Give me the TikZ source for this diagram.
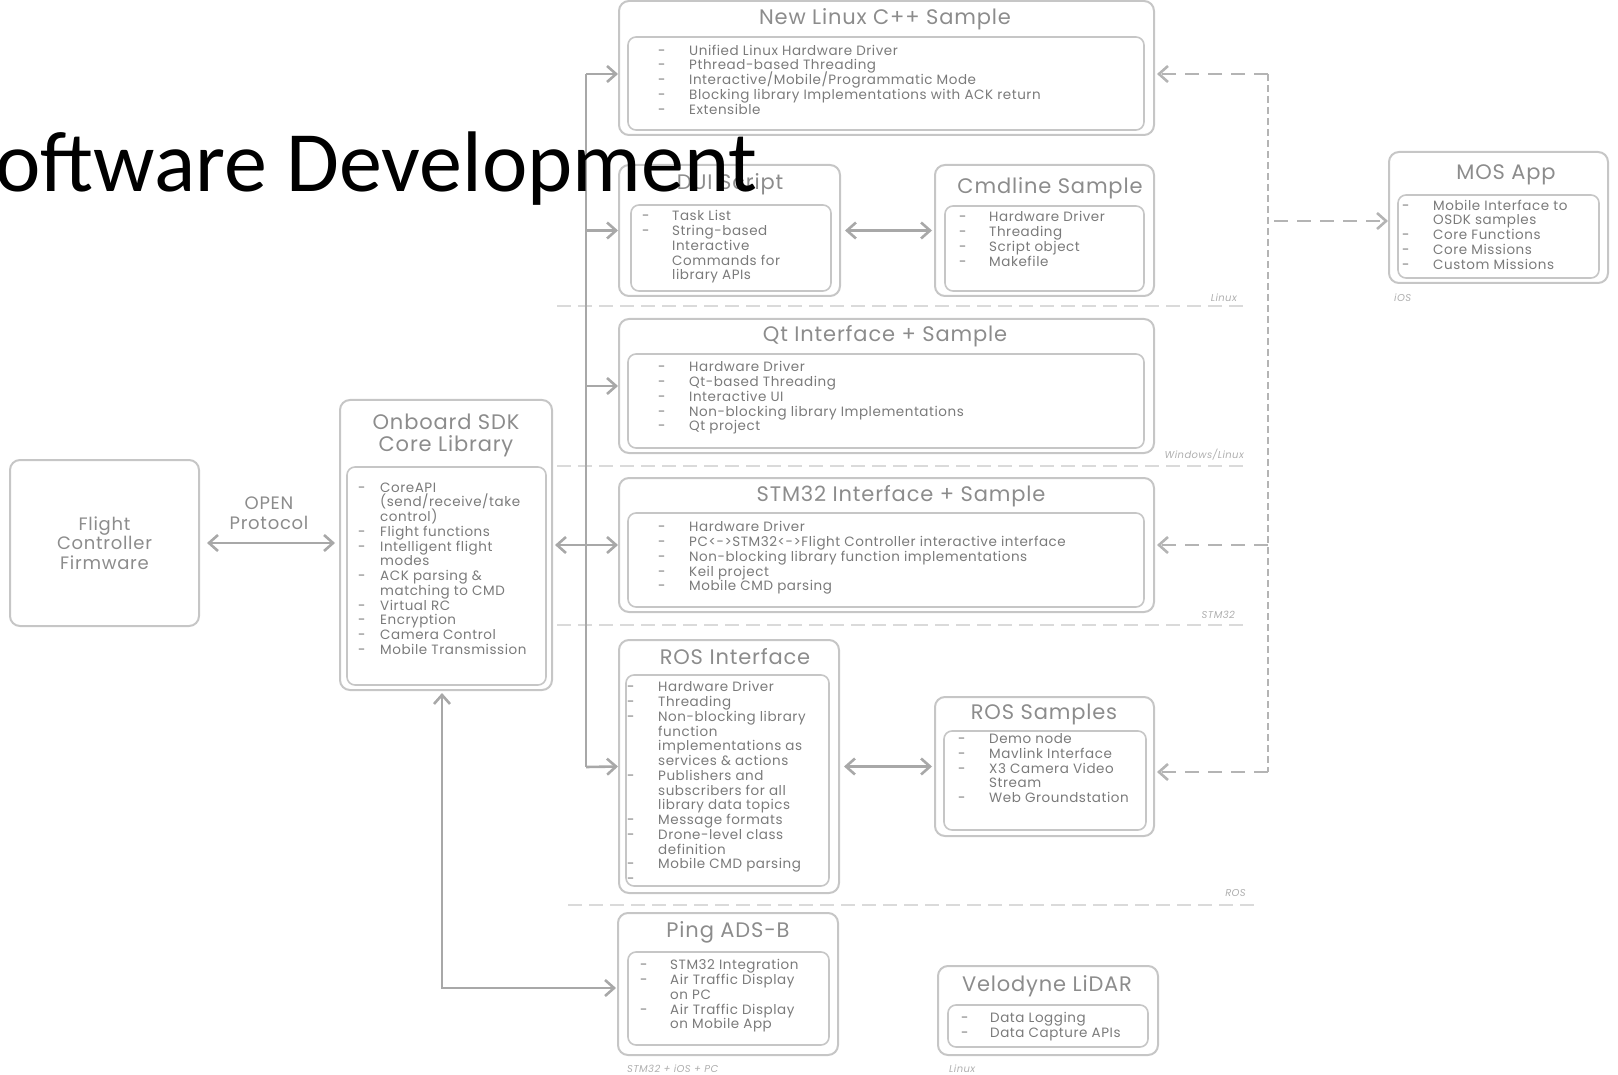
\documentclass[tikz,border=0pt]{standalone}
\usepackage{fontspec}
\setmainfont{Poppins}[LetterSpace=4]
\newfontfamily\slidefont{Carlito}
\usepackage{tikz}
\usetikzlibrary{arrows.meta}

\definecolor{boxgray}{HTML}{C6C6C6}
\definecolor{textgray}{HTML}{7A7A7A}
\definecolor{titlegray}{HTML}{8C8C8C}
\definecolor{wiregray}{HTML}{A8A8A8}
\definecolor{dashgray}{HTML}{B4B4B4}
\newcommand{\itm}[2][31pt]{\makebox[#1][l]{-}#2}
\newcommand{\wrapln}[2][31pt]{\hspace*{#1}#2}
\lineskiplimit=-20pt

\begin{document}
\begin{tikzpicture}[x=1pt, y=-1pt,
  panel/.style={draw=boxgray, line width=2pt, rounded corners=10pt, inner sep=0pt},
  listbox/.style={draw=boxgray, line width=1.6pt, rounded corners=8pt, inner sep=0pt},
  paneltitle/.style={text=titlegray, inner sep=0pt, font=\fontsize{21}{23}\selectfont},
  items/.style={text=textgray, align=left, anchor=north west, inner sep=0pt, font=\fontsize{13.5}{14.75}\selectfont},
  oslabel/.style={text=textgray!60, inner sep=0pt, font=\itshape\fontsize{10}{11}\selectfont},
  sepline/.style={draw=boxgray!65, line width=1.2pt, dash pattern=on 14pt off 7pt},
  wire/.style={draw=wiregray, line width=2.6pt},
  link/.style={wire, -{Straight Barb[length=9pt,width=16pt]}},
  duallink/.style={wire, {Straight Barb[length=9pt,width=16pt]}-{Straight Barb[length=9pt,width=16pt]}},
  dwire/.style={draw=dashgray, line width=2.6pt, dash pattern=on 7pt off 4pt},
  dlink/.style={draw=dashgray, line width=2.6pt, dash pattern=on 14pt off 9pt, -{Straight Barb[length=9pt,width=16pt]}}]
\useasboundingbox (0,0) rectangle (1618,1075);

% left side
\node[panel, minimum width=189pt, minimum height=166pt, align=center, text=titlegray,
  font=\fontsize{18}{19.5}\selectfont] (fc) at (104.5,543) {Flight\\Controller\\Firmware};
\node[text=titlegray, align=center, font=\fontsize{18}{19.5}\selectfont] (openproto) at (269,513) {OPEN\\Protocol};

\node[panel, minimum width=212pt, minimum height=290pt] (core) at (446,545) {};
\node[paneltitle, align=center, font=\fontsize{21}{22}\selectfont] (core-title) at (446,435) {Onboard SDK\\Core Library};
\node[listbox, minimum width=199pt, minimum height=218pt] (core-in) at (446.5,576) {};
\node[items] (core-items) at (358,482.5) {\itm[22pt]{CoreAPI}\\ \wrapln[22pt]{(send/receive/take}\\ \wrapln[22pt]{control)}\\
  \itm[22pt]{Flight functions}\\ \itm[22pt]{Intelligent flight}\\ \wrapln[22pt]{modes}\\ \itm[22pt]{ACK parsing \&}\\
  \wrapln[22pt]{matching to CMD}\\ \itm[22pt]{Virtual RC}\\ \itm[22pt]{Encryption}\\ \itm[22pt]{Camera Control}\\ \itm[22pt]{Mobile Transmission}};

% samples column
\node[panel, minimum width=535pt, minimum height=134pt] (nlc) at (886.5,68) {};
\node[paneltitle] (nlc-title) at (885,19) {New Linux C++ Sample};
\node[listbox, minimum width=516pt, minimum height=93pt] (nlc-in) at (886,83.5) {};
\node[items] (nlc-items) at (658,44.5) {\itm{Unified Linux Hardware Driver}\\ \itm{Pthread-based Threading}\\
  \itm{Interactive/Mobile/Programmatic Mode}\\ \itm{Blocking library Implementations with ACK return}\\ \itm{Extensible}};

\node[panel, minimum width=221pt, minimum height=131pt] (dui) at (729.5,230.5) {};
\node[paneltitle] (dui-title) at (730,184) {DUI Script};
\node[listbox, minimum width=200pt, minimum height=86pt] (dui-in) at (731,248) {};
\node[items] (dui-items) at (642,210.5) {\itm[30pt]{Task List}\\ \itm[30pt]{String-based}\\ \wrapln[30pt]{Interactive}\\
  \wrapln[30pt]{Commands for}\\ \wrapln[30pt]{library APIs}};

\node[panel, minimum width=219pt, minimum height=131pt] (cmd) at (1044.5,230.5) {};
\node[paneltitle] (cmd-title) at (1050,188) {Cmdline Sample};
\node[listbox, minimum width=199pt, minimum height=85pt] (cmd-in) at (1044.5,248.5) {};
\node[items] (cmd-items) at (959,211.5) {\itm[30pt]{Hardware Driver}\\ \itm[30pt]{Threading}\\ \itm[30pt]{Script object}\\ \itm[30pt]{Makefile}};

\node[panel, minimum width=535pt, minimum height=134pt] (qt) at (886.5,386) {};
\node[paneltitle] (qt-title) at (885,336) {Qt Interface + Sample};
\node[listbox, minimum width=516pt, minimum height=94pt] (qt-in) at (886,401) {};
\node[items] (qt-items) at (658,361.5) {\itm{Hardware Driver}\\ \itm{Qt-based Threading}\\ \itm{Interactive UI}\\
  \itm{Non-blocking library Implementations}\\ \itm{Qt project}};

\node[panel, minimum width=535pt, minimum height=134pt] (stm) at (886.5,545) {};
\node[paneltitle] (stm-title) at (901,496) {STM32 Interface + Sample};
\node[listbox, minimum width=516pt, minimum height=94pt] (stm-in) at (886,560) {};
\node[items] (stm-items) at (658,521.5) {\itm{Hardware Driver}\\ \itm{PC<->STM32<->Flight Controller interactive interface}\\
  \itm{Non-blocking library function implementations}\\ \itm{Keil project}\\ \itm{Mobile CMD parsing}};

\node[panel, minimum width=220pt, minimum height=253pt] (rosif) at (729,766.5) {};
\node[paneltitle] (rosif-title) at (735,657) {ROS Interface};
\node[listbox, minimum width=203pt, minimum height=211pt] (rosif-in) at (727.5,780.5) {};
\node[items] (rosif-items) at (627,681.5) {\itm{Hardware Driver}\\ \itm{Threading}\\ \itm{Non-blocking library}\\ \wrapln{function}\\
  \wrapln{implementations as}\\ \wrapln{services \& actions}\\ \itm{Publishers and}\\ \wrapln{subscribers for all}\\
  \wrapln{library data topics}\\ \itm{Message formats}\\ \itm{Drone-level class}\\ \wrapln{definition}\\ \itm{Mobile CMD parsing}\\ \itm{}};

\node[panel, minimum width=219pt, minimum height=139pt] (rossmp) at (1044.5,766.5) {};
\node[paneltitle] (rossmp-title) at (1044,714) {ROS Samples};
\node[listbox, minimum width=202pt, minimum height=99pt] (rossmp-in) at (1045,780.5) {};
\node[items] (rossmp-items) at (958,733.5) {\itm{Demo node}\\ \itm{Mavlink Interface}\\ \itm{X3 Camera Video}\\ \wrapln{Stream}\\ \itm{Web Groundstation}};

\node[panel, minimum width=220pt, minimum height=142pt] (ping) at (728,984) {};
\node[paneltitle] (ping-title) at (728,932) {Ping ADS-B};
\node[listbox, minimum width=201pt, minimum height=93pt] (ping-in) at (728.5,998.5) {};
\node[items] (ping-items) at (640,959.5) {\itm[30pt]{STM32 Integration}\\ \itm[30pt]{Air Traffic Display}\\ \wrapln[30pt]{on PC}\\
  \itm[30pt]{Air Traffic Display}\\ \wrapln[30pt]{on Mobile App}};

\node[panel, minimum width=220pt, minimum height=89pt] (velo) at (1048,1010.5) {};
\node[paneltitle] (velo-title) at (1047,986) {Velodyne LiDAR};
\node[listbox, minimum width=200pt, minimum height=42pt] (velo-in) at (1048,1026) {};
\node[items] (velo-items) at (961,1012.5) {\itm[29pt]{Data Logging}\\ \itm[29pt]{Data Capture APIs}};

% mobile side
\node[panel, minimum width=219pt, minimum height=131pt] (mos) at (1498.5,217.5) {};
\node[paneltitle] (mos-title) at (1506,175) {MOS App};
\node[listbox, minimum width=201pt, minimum height=83pt] (mos-in) at (1498.5,236.5) {};
\node[items] (mos-items) at (1402,199.5) {\itm{Mobile Interface to}\\ \wrapln{OSDK samples}\\ \itm{Core Functions}\\ \itm{Core Missions}\\ \itm{Custom Missions}};

% platform separators and labels
\draw[sepline] (557,306) -- (1249,306);
\draw[sepline] (557,466) -- (1249,466);
\draw[sepline] (557,625) -- (1249,625);
\draw[sepline] (568,905) -- (1259,905);
\node[oslabel, anchor=east] (os-linux) at (1237,298) {Linux};
\node[oslabel, anchor=east] (os-win) at (1244,455) {Windows/Linux};
\node[oslabel, anchor=east] (os-stm) at (1235,615) {STM32};
\node[oslabel, anchor=east] (os-ros) at (1246,893) {ROS};
\node[oslabel, anchor=west] (os-ping) at (627,1069) {STM32 + iOS + PC};
\node[oslabel, anchor=west] (os-velo) at (949,1069) {Linux};
\node[oslabel, anchor=west] (os-ios) at (1394,298) {iOS};

% connectors
\coordinate (bus-top) at (586,74);
\coordinate (bus-bot) at (586,767);
\draw[wire] (bus-top) -- (bus-bot);
\draw[link] (bus-top) -- ([yshift=-6pt]nlc.west);
\draw[link] (bus-top |- dui.west) -- (dui.west);
\draw[link] (bus-top |- qt.west) -- (qt.west);
\draw[link] (bus-bot) -- (rosif.west);
\draw[duallink] ([xshift=2pt]core.east) -- (stm.west);
\draw[duallink] ([xshift=7pt]fc.east) -- ([xshift=-4pt]fc.east -| core.west);
\draw[duallink] ([xshift=4pt]dui.east) -- ([xshift=-2pt]cmd.west);
\draw[duallink] ([xshift=4pt]rosif.east) -- ([xshift=-2pt]rossmp.west);
\draw[duallink] ([xshift=-4pt,yshift=-2pt]core.south) |- ([xshift=-1pt,yshift=-4pt]ping.west);

\coordinate (dbus-top) at (1268,74);
\coordinate (dbus-bot) at (1268,772);
\draw[dwire] (dbus-top) -- (dbus-bot);
\draw[dlink] (dbus-top) -- ([xshift=2pt,yshift=-6pt]nlc.east);
\draw[dlink] (dbus-top |- stm.east) -- ([xshift=2pt]stm.east);
\draw[dlink] (dbus-bot) -- ([xshift=2pt,yshift=-5.5pt]rossmp.east);
\draw[dlink] ([xshift=6pt,yshift=-3.5pt]dbus-top |- mos.west) -- ([yshift=-3.5pt]mos.west);

% slide title on top
\node[anchor=base west, inner sep=0pt, font=\slidefont\fontsize{86}{90}\selectfont] (slide-title) at (-5,192) {oftware Development};
\end{tikzpicture}
\end{document}
